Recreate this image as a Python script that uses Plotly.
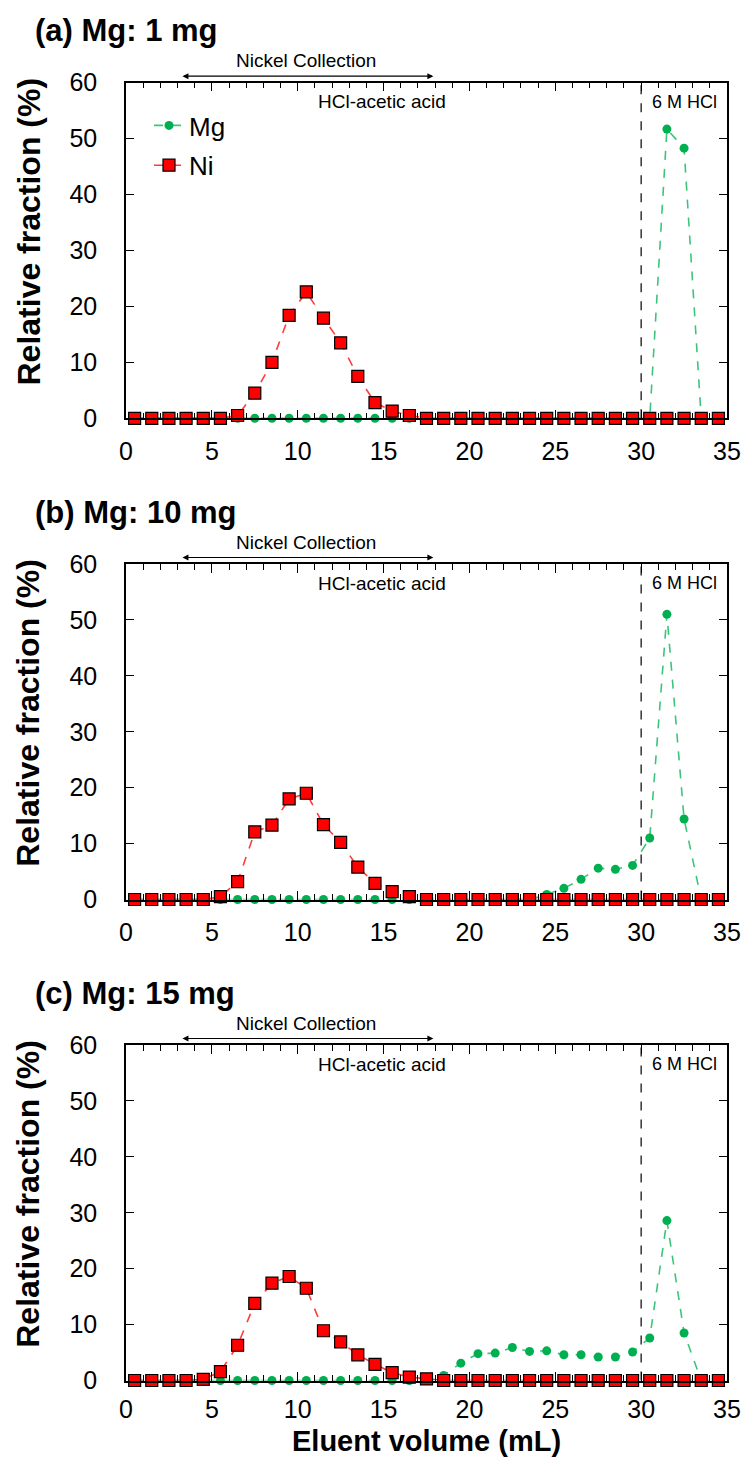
import plotly.graph_objects as go

# ---------------- data ----------------
volume = [0.5, 1.5, 2.5, 3.5, 4.5, 5.5, 6.5, 7.5, 8.5, 9.5,
          10.5, 11.5, 12.5, 13.5, 14.5, 15.5, 16.5, 17.5, 18.5, 19.5,
          20.5, 21.5, 22.5, 23.5, 24.5, 25.5, 26.5, 27.5, 28.5, 29.5,
          30.5, 31.5, 32.5, 33.5, 34.5]

mg_a = [0, 0, 0, 0, 0, 0, 0, 0, 0, 0,
        0, 0, 0, 0, 0, 0, 0, 0, 0, 0,
        0, 0, 0, 0, 0, 0, 0, 0, 0, 0,
        0, 51.7, 48.3, 0, 0]
ni_a = [0, 0, 0, 0, 0, 0, 0.5, 4.5, 10.0, 18.4,
        22.6, 17.9, 13.5, 7.5, 2.8, 1.3, 0.5, 0, 0, 0,
        0, 0, 0, 0, 0, 0, 0, 0, 0, 0,
        0, 0, 0, 0, 0]

mg_b = [0, 0, 0, 0, 0, 0, 0, 0, 0, 0,
        0, 0, 0, 0, 0, 0, 0, 0, 0, 0,
        0, 0, 0, 0, 0.9, 2.0, 3.6, 5.6, 5.4, 6.1,
        11.0, 51.0, 14.4, 0, 0]
ni_b = [0, 0, 0, 0, 0, 0.5, 3.2, 12.1, 13.3, 18.0,
        19.0, 13.4, 10.2, 5.8, 2.9, 1.4, 0.5, 0, 0, 0,
        0, 0, 0, 0, 0, 0, 0, 0, 0, 0,
        0, 0, 0, 0, 0]

mg_c = [0, 0, 0, 0, 0, 0, 0, 0, 0, 0,
        0, 0, 0, 0, 0, 0, 0, 0, 0.9, 3.1,
        4.8, 4.9, 5.9, 5.2, 5.3, 4.6, 4.6, 4.2, 4.2, 5.1,
        7.6, 28.6, 8.5, 0, 0]
ni_c = [0, 0, 0, 0, 0.2, 1.6, 6.3, 13.8, 17.4, 18.6,
        16.5, 8.9, 6.9, 4.6, 2.9, 1.4, 0.6, 0.3, 0, 0,
        0, 0, 0, 0, 0, 0, 0, 0, 0, 0,
        0, 0, 0, 0, 0]

panel_titles = ["(a) Mg: 1 mg", "(b) Mg: 10 mg", "(c) Mg: 15 mg"]
mg_series = [mg_a, mg_b, mg_c]
ni_series = [ni_a, ni_b, ni_c]
x_ticks = [0, 5, 10, 15, 20, 25, 30, 35]
y_ticks = [0, 10, 20, 30, 40, 50, 60]

# ---------------- layout geometry ----------------
W, H = 746, 1459
T, B = 20, 20
P = H - T - B
FONT = "Liberation Sans, Arial, sans-serif"
panel_px = [(82.7, 418.3), (564.0, 899.5), (1045.0, 1380.5)]  # top, bottom pixels
plot_left, plot_right = 126, 727
PW = plot_right - plot_left


def py(pix):
    """pixel row (from top of page) -> paper fraction of the plot area"""
    return (H - B - pix) / P


def px(pix):
    return (pix - plot_left) / PW


MG_MARK = "#00B050"
MG_LINE = "#3CC47C"
NI_MARK = "#FF0000"
NI_LINE = "#FF3B3B"

fig = go.Figure()

for i in range(3):
    xa = "x" if i == 0 else f"x{i+1}"
    ya = "y" if i == 0 else f"y{i+1}"
    fig.add_trace(go.Scatter(
        x=volume, y=mg_series[i], mode="lines+markers", name="Mg",
        xaxis=xa, yaxis=ya, showlegend=(i == 0), legendgroup="mg",
        line=dict(color=MG_LINE, width=1.6, dash="dash"),
        marker=dict(symbol="circle", size=9, color=MG_MARK),
        cliponaxis=False))
    fig.add_trace(go.Scatter(
        x=volume, y=ni_series[i], mode="lines+markers", name="Ni",
        xaxis=xa, yaxis=ya, showlegend=(i == 0), legendgroup="ni",
        line=dict(color=NI_LINE, width=1.6, dash="dash"),
        marker=dict(symbol="square", size=12, color=NI_MARK,
                    line=dict(color="black", width=1.2)),
        cliponaxis=False))

layout = dict(
    width=W, height=H,
    margin=dict(l=plot_left, r=W - plot_right, t=T, b=B, autoexpand=False),
    paper_bgcolor="white", plot_bgcolor="white",
    font=dict(family=FONT, color="black"),
    showlegend=True,
    legend=dict(x=px(149), y=py(102), xanchor="left", yanchor="top",
                font=dict(family=FONT, size=26, color="black"),
                bgcolor="rgba(0,0,0,0)", tracegroupgap=3,
                itemwidth=30),
    annotations=[], shapes=[],
)

for i in range(3):
    top, bot = panel_px[i]
    dom = [py(bot), py(top)]
    xkey = "xaxis" if i == 0 else f"xaxis{i+1}"
    ykey = "yaxis" if i == 0 else f"yaxis{i+1}"
    ya = "y" if i == 0 else f"y{i+1}"
    xa = "x" if i == 0 else f"x{i+1}"
    layout[xkey] = dict(
        domain=[0, 1], anchor=ya, range=[0, 35], automargin=False,
        tickvals=x_ticks, ticks="inside", ticklen=9, tickwidth=1.3,
        tickcolor="black", showline=True, linecolor="black", linewidth=1.5,
        mirror="allticks", showgrid=False, zeroline=False,
        tickfont=dict(family=FONT, size=25, color="black"),
        ticklabelstandoff=10 if i < 2 else 6,
        minor=dict(dtick=1, tick0=0, ticks="inside", ticklen=6,
                   tickwidth=1, tickcolor="black", showgrid=False),
    )
    layout[ykey] = dict(
        domain=dom, anchor=xa, range=[0, 60], automargin=False,
        tickvals=y_ticks, ticks="inside", ticklen=8, tickwidth=1.3,
        tickcolor="black", showline=True, linecolor="black", linewidth=1.5,
        mirror="allticks", showgrid=False, zeroline=False,
        tickfont=dict(family=FONT, size=25, color="black"),
        ticklabelstandoff=22,
    )
    ydom = f"{ya} domain"
    ph = bot - top
    # panel title
    layout["annotations"].append(dict(
        text="<b>" + panel_titles[i] + "</b>", xref="paper", yref=ydom,
        x=px(33), y=1 + 52 / ph,
        xanchor="left", yanchor="middle", showarrow=False,
        font=dict(family=FONT, size=31, color="black")))
    # y-axis title
    layout["annotations"].append(dict(
        text="<b>Relative fraction (%)</b>", xref="paper", yref=ydom,
        x=px(28), y=0.5 + 19 / ph,
        xanchor="center", yanchor="middle", textangle=-90, showarrow=False,
        font=dict(family=FONT, size=32, color="black")))
    # Nickel collection label
    layout["annotations"].append(dict(
        text="Nickel Collection", xref=xa, yref=ydom,
        x=10.5, y=1 + 22 / ph, xanchor="center", yanchor="middle",
        showarrow=False, font=dict(family=FONT, size=19, color="black")))
    # double-headed arrow
    layout["annotations"].append(dict(
        text="", xref=xa, yref=ydom, x=17.9, y=1 + 6.5 / ph,
        axref=xa, ayref="pixel", ax=3.2, ay=0,
        showarrow=True, arrowside="end+start", arrowhead=2, arrowsize=1,
        arrowwidth=1.2, arrowcolor="black"))
    # eluent labels
    layout["annotations"].append(dict(
        text="HCl-acetic acid", xref=xa, yref=ydom,
        x=14.9, y=1 - 19 / ph, xanchor="center", yanchor="middle",
        showarrow=False, font=dict(family=FONT, size=19, color="black")))
    layout["annotations"].append(dict(
        text="6 M HCl", xref=xa, yref=ydom,
        x=32.5, y=1 - 19 / ph, xanchor="center", yanchor="middle",
        showarrow=False, font=dict(family=FONT, size=18, color="black")))
    # divider line at 30 mL
    layout["shapes"].append(dict(
        type="line", xref=xa, yref=ya, x0=30, x1=30, y0=0, y1=60,
        line=dict(color="black", width=1.2, dash="dash")))

# x-axis title on the bottom panel
layout["annotations"].append(dict(
    text="<b>Eluent volume (mL)</b>", xref="paper", yref="paper",
    x=0.5, y=py(1441), xanchor="center", yanchor="middle",
    showarrow=False, font=dict(family=FONT, size=29, color="black")))

fig.update_layout(**layout)
fig.write_html("out.html")
